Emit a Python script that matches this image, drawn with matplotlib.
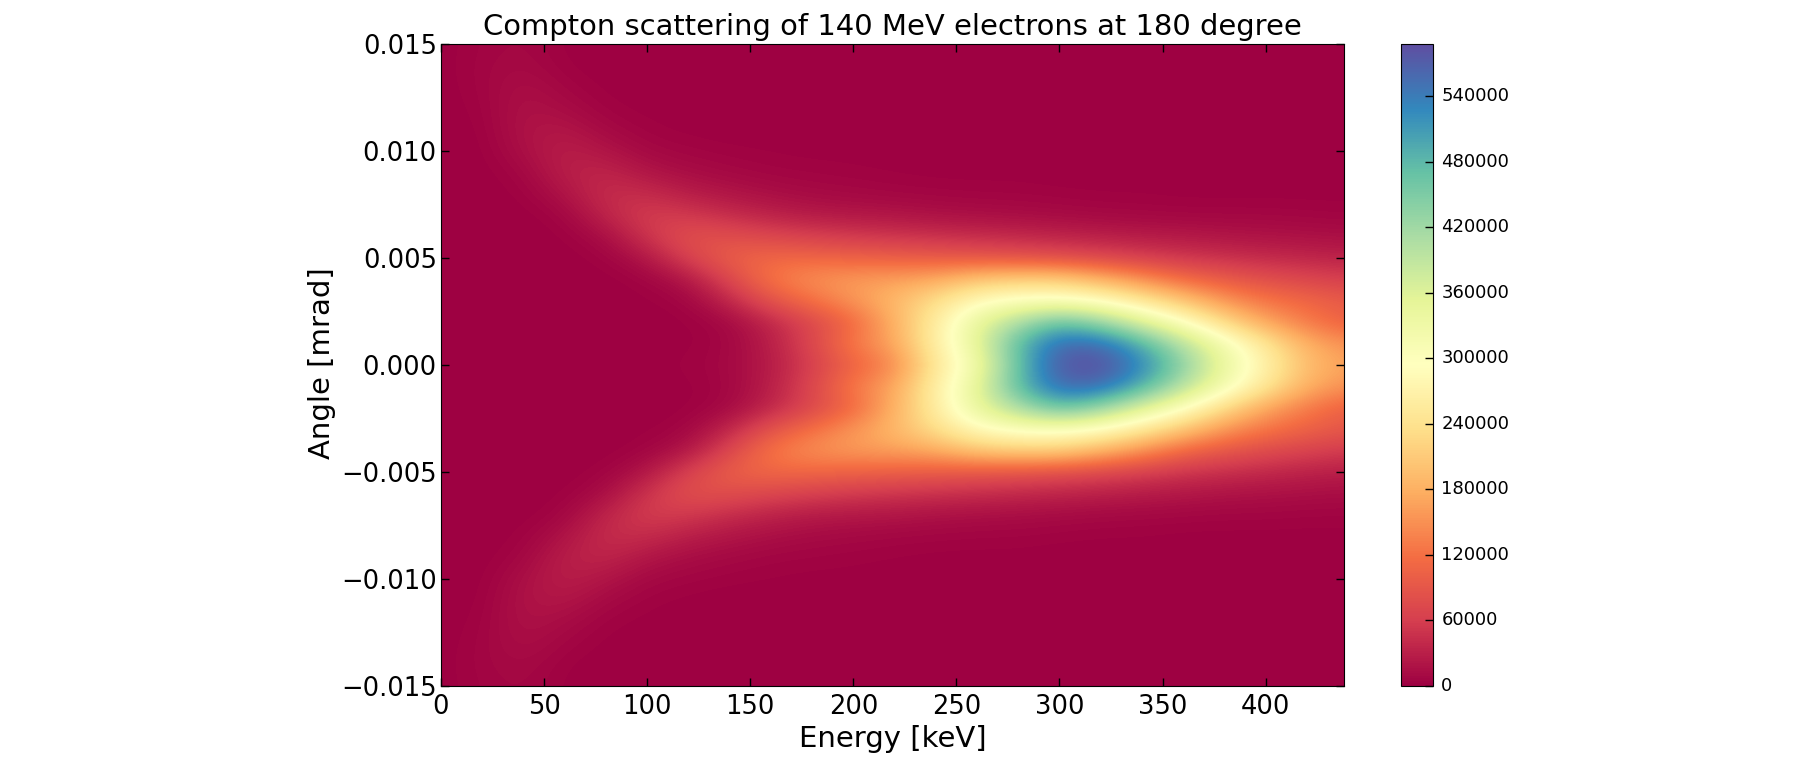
import numpy as np
import matplotlib
matplotlib.use('Agg')
import matplotlib.pyplot as plt
from matplotlib.transforms import ScaledTranslation

# grid of the picture: energy in keV, angle in rad
energy = np.arange(0, 441, 20)
angle = np.arange(15, -16, -1) * 0.001

# counts in thousands (rows go from +15 mrad down to -15 mrad)
counts_k = [
    [0, 5, 8, 1, 0, 0, 0, 0, 0, 0, 0, 0, 0, 0, 0, 0, 0, 0, 0, 0, 0, 0, 0],
    [0, 6, 10, 2, 0, 0, 0, 0, 0, 0, 0, 0, 0, 0, 0, 0, 0, 0, 0, 0, 0, 0, 0],
    [0, 5, 15, 6, 1, 0, 0, 0, 0, 0, 0, 0, 0, 0, 0, 0, 0, 0, 0, 0, 0, 0, 0],
    [0, 3, 18, 12, 3, 1, 0, 0, 0, 0, 0, 0, 0, 0, 0, 0, 0, 0, 0, 0, 0, 0, 0],
    [0, 1, 19, 22, 9, 3, 1, 0, 0, 0, 0, 0, 0, 0, 0, 0, 0, 0, 0, 0, 0, 0, 0],
    [0, 0, 15, 30, 20, 8, 5, 3, 2, 1, 1, 0, 0, 0, 0, 0, 0, 0, 0, 0, 0, 0, 0],
    [0, 0, 6, 30, 36, 20, 12, 8, 5, 4, 3, 2, 1, 1, 1, 0, 0, 0, 0, 0, 0, 0, 0],
    [0, 0, 2, 18, 44, 42, 28, 20, 14, 10, 8, 6, 5, 4, 4, 3, 2, 2, 1, 1, 1, 1, 1],
    [0, 0, 0, 5, 35, 60, 55, 42, 32, 25, 22, 20, 16, 14, 12, 10, 8, 7, 6, 6, 6, 5, 4],
    [0, 0, 0, 1, 12, 50, 82, 80, 70, 62, 55, 50, 46, 42, 38, 34, 30, 26, 24, 20, 18, 16, 14],
    [0, 0, 0, 0, 3, 20, 65, 100, 112, 110, 105, 100, 95, 90, 85, 78, 70, 60, 52, 46, 40, 36, 32],
    [0, 0, 0, 0, 0, 4, 20, 70, 125, 150, 160, 165, 175, 205, 215, 215, 185, 150, 115, 95, 80, 70, 60],
    [0, 0, 0, 0, 0, 1, 5, 35, 85, 120, 155, 190, 235, 285, 305, 305, 290, 250, 205, 155, 125, 110, 95],
    [0, 0, 0, 0, 0, 0, 1, 8, 35, 70, 110, 180, 260, 345, 410, 475, 430, 360, 300, 230, 170, 130, 100],
    [0, 0, 0, 0, 0, 0, 1, 6, 28, 70, 130, 170, 265, 345, 480, 560, 560, 490, 400, 320, 250, 180, 150],
    [0, 0, 0, 0, 0, 1, 3, 8, 25, 60, 105, 140, 250, 320, 470, 580, 588, 535, 440, 340, 270, 195, 165],
    [0, 0, 0, 0, 0, 0, 1, 6, 28, 70, 130, 170, 265, 345, 480, 560, 560, 490, 400, 320, 250, 180, 150],
    [0, 0, 0, 0, 0, 0, 1, 8, 35, 70, 110, 180, 260, 345, 410, 475, 430, 360, 300, 230, 170, 130, 100],
    [0, 0, 0, 0, 0, 1, 5, 35, 85, 120, 155, 190, 235, 285, 305, 305, 290, 250, 205, 155, 125, 105, 90],
    [0, 0, 0, 0, 0, 4, 20, 70, 125, 150, 160, 165, 175, 205, 215, 215, 185, 150, 110, 90, 75, 65, 55],
    [0, 0, 0, 0, 3, 20, 65, 100, 112, 110, 105, 100, 95, 90, 85, 78, 70, 60, 50, 44, 38, 32, 28],
    [0, 0, 0, 1, 12, 50, 82, 80, 70, 62, 55, 50, 46, 42, 38, 34, 30, 26, 22, 18, 16, 14, 12],
    [0, 0, 0, 5, 35, 60, 55, 42, 32, 25, 22, 20, 16, 14, 12, 10, 8, 7, 6, 5, 5, 4, 4],
    [0, 0, 2, 18, 44, 42, 28, 20, 14, 10, 8, 6, 5, 4, 4, 3, 2, 2, 1, 1, 1, 1, 1],
    [0, 0, 6, 30, 36, 20, 12, 8, 5, 4, 3, 2, 1, 1, 1, 0, 0, 0, 0, 0, 0, 0, 0],
    [0, 0, 15, 30, 20, 8, 5, 3, 2, 1, 1, 0, 0, 0, 0, 0, 0, 0, 0, 0, 0, 0, 0],
    [0, 1, 19, 22, 9, 3, 1, 0, 0, 0, 0, 0, 0, 0, 0, 0, 0, 0, 0, 0, 0, 0, 0],
    [0, 3, 18, 12, 3, 1, 0, 0, 0, 0, 0, 0, 0, 0, 0, 0, 0, 0, 0, 0, 0, 0, 0],
    [0, 5, 15, 6, 1, 0, 0, 0, 0, 0, 0, 0, 0, 0, 0, 0, 0, 0, 0, 0, 0, 0, 0],
    [0, 6, 10, 2, 0, 0, 0, 0, 0, 0, 0, 0, 0, 0, 0, 0, 0, 0, 0, 0, 0, 0, 0],
    [0, 5, 8, 1, 0, 0, 0, 0, 0, 0, 0, 0, 0, 0, 0, 0, 0, 0, 0, 0, 0, 0, 0],
]

xticks = [0, 50, 100, 150, 200, 250, 300, 350, 400]
yticks = [-0.015, -0.010, -0.005, 0.0, 0.005, 0.010, 0.015]
cbar_ticks = list(range(0, 540001, 60000))
vmax = 588000

counts = np.array(counts_k) * 1000.0
half_e = (energy[1] - energy[0]) / 2
half_a = (angle[0] - angle[1]) / 2

W, H = 1811, 767
fig = plt.figure(figsize=(W / 100, H / 100), dpi=100)
ax = fig.add_axes([441 / W, 1 - 686 / H, (1344 - 441) / W, (686 - 44) / H])

im = ax.imshow(counts, cmap='Spectral', vmin=0, vmax=vmax, aspect='auto', interpolation='bicubic',
               extent=[energy[0] - half_e, energy[-1] + half_e, angle[-1] - half_a, angle[0] + half_a])
ax.set_xlim(0, 438)
ax.set_ylim(-0.015, 0.015)
ax.set_xticks(xticks)
ax.set_yticks(yticks)
ax.tick_params(direction='in', top=True, right=True, length=6, width=1, labelsize=18.5)
ax.tick_params(axis='x', pad=5.5)
ax.tick_params(axis='y', pad=3)
ax.set_title('Compton scattering of 140 MeV electrons at 180 degree', fontsize=20.9, pad=6.5)
ax.set_xlabel('Energy [keV]', fontsize=21, labelpad=4)
ax.set_ylabel('Angle [mrad]', fontsize=21, labelpad=3.5, y=0.503)

cax = fig.add_axes([1401 / W, 1 - 686 / H, (1433 - 1401) / W, (686 - 44) / H])
cbar = fig.colorbar(im, cax=cax)
cbar.set_ticks(cbar_ticks)
cbar.ax.tick_params(direction='in', length=6, width=1, labelsize=13, pad=6)
# the colourbar labels sit a little above their ticks in the reference
for label in cbar.ax.get_yticklabels():
    label.set_transform(label.get_transform() + ScaledTranslation(0, 2 / 100, fig.dpi_scale_trans))

fig.savefig('out.png', dpi=100)
